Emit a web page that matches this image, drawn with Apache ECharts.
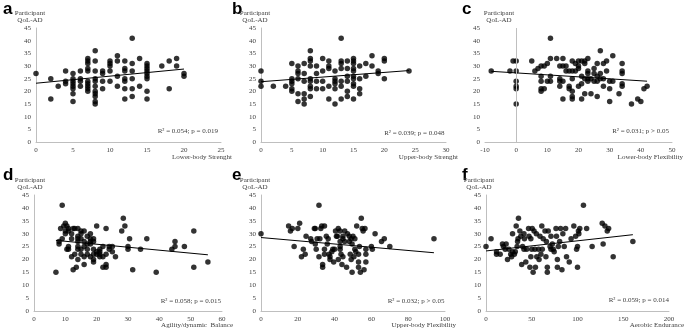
<!DOCTYPE html>
<html><head><meta charset="utf-8">
<script src="https://cdn.jsdelivr.net/npm/echarts@6/dist/echarts.min.js"></script>
<style>html,body{margin:0;padding:0;background:#fff}#c{width:685px;height:331px}</style>
</head><body><div id="c"></div>
<script>
// ---- data ----
const panelLetters = ['a','b','c','d','e','f'];
const xTitles = ['Lower-body Strenght','Upper-body Strenght','Lower-body Flexibility','Agility/dynamic  Balance','Upper-body Flexibility','Aerobic Endurance'];
const statsText = ['R\u00b2 = 0.054; p = 0.019','R\u00b2 = 0.039; p = 0.048','R\u00b2 = 0.031; p > 0.05','R\u00b2 = 0.058; p = 0.015','R\u00b2 = 0.032; p > 0.05','R\u00b2 = 0.059; p = 0.014'];
const xMin = [0, 0, -10, 0, 0, 0];
const xMax = [25, 30, 50, 60, 100, 200];
const xStep = [5, 5, 10, 10, 20, 50];
const yTicks = [0, 45, 5];

const lowerStrength = [[0,27],[2,25],[2,17],[3,22],[4,28],[4,24],[4,23],
 [5,27],[5,25],[5,24],[5,23],[5,22],[5,21],[5,19],[5,16],
 [6,28],[6,25],[6,24],[6,22],
 [7,33],[7,32],[7,31],[7,29],[7,28],[7,24],[7,23],[7,22],[7,21],[7,20],
 [8,36],[8,32],[8,28],[8,25],[8,24],[8,22],[8,20],[8,19],[8,18],[8,16],[8,15],
 [9,28],[9,27],[9,24],[9,21],[10,32],[10,31],[10,30],[10,28],[10,24],
 [11,34],[11,32],[11,26],[11,22],[12,32],[12,29],[12,28],[12,25],[12,24],[12,21],[12,17],
 [13,41],[13,31],[13,28],[13,25],[13,21],[13,18],[14,33],[14,22],
 [15,31],[15,30],[15,29],[15,28],[15,27],[15,26],[15,25],[15,20],[15,17],
 [17,30],[18,32],[18,21],[19,33],[19,30],[20,27],[20,26]];
const upperStrength = [[0,28],[0,24],[0,22],[2,22],[4,22],
 [5,31],[5,25],[5,24],[5,23],[5,21],[5,20],
 [6,30],[6,28],[6,27],[6,25],[6,19],[6,16],
 [7,31],[7,27],[7,24],[7,19],[7,17],[7,15],
 [8,36],[8,33],[8,32],[8,30],[8,25],[8,24],[8,22],[8,21],[8,18],
 [9,30],[9,27],[9,24],[9,21],[10,33],[10,28],[10,24],[10,21],
 [11,32],[11,30],[11,29],[11,22],[11,17],[12,28],[12,25],[12,24],[12,23],[12,21],[12,15],
 [13,41],[13,32],[13,31],[13,29],[13,24],[13,22],[13,17],
 [14,32],[14,29],[14,26],[14,24],[14,20],[14,18],
 [15,33],[15,32],[15,31],[15,29],[15,28],[15,26],[15,25],[15,23],[15,22],[15,17],
 [16,30],[16,25],[16,21],[16,19],[17,31],[17,26],[18,34],[18,30],[19,28],[19,27],
 [20,33],[20,32],[20,25],[24,28]];
const lowerFlex = [[-8,28],[-2,28],[-1,32],[0,32],[0,28],[0,24],[0,22],[0,21],[0,15],
 [5,32],[6,28],[7,29],[8,30],[8,26],[8,24],[8,21],[8,20],[9,30],[9,21],[10,31],[10,24],
 [11,41],[11,33],[11,26],[11,24],[13,33],[14,30],[14,25],[14,24],[14,22],
 [15,33],[15,30],[15,24],[15,17],[16,30],[16,28],[17,28],[17,22],[17,21],
 [18,32],[18,28],[18,25],[18,20],[18,18],[18,17],[19,31],[19,28],
 [20,32],[20,30],[20,29],[20,22],[21,32],[21,26],[21,23],[21,17],
 [22,32],[22,31],[22,25],[22,19],[23,33],[23,28],[23,27],[23,25],[23,24],[24,25],[24,19],
 [25,29],[25,27],[25,24],[26,31],[26,26],[26,24],[26,18],[27,36],[27,27],[27,25],
 [28,31],[28,25],[28,22],[29,32],[29,28],[30,24],[30,21],[30,16],[31,34],[31,24],[33,19],
 [34,31],[34,28],[34,27],[34,23],[34,22],[37,15],[39,17],[40,16],[41,21],[42,22]];
const agility = [[7,15],[8,27],[8,26],[9,41],[8.5,32],[9,28],[9.5,33],[10,34],[10,31],[10,30],
 [10.5,33],[11,32],[11,31],[11,24],[11,25],[10.5,24],[12,30],[12,28],[12,21],[12.5,32],
 [13,32],[13,22],[12.5,16],[13.5,17],[14,32],[14,29],[14,28],[14,27],[14,25],[14,24],[14,20],
 [15,31],[15,30],[15,28],[15,24],[15,22],[16,31],[16,27],[16,25],[16,21],[16,18],
 [17,29],[17,26],[17,24],[17,22],[18,30],[18,28],[18,27],[18,26],[18,21],
 [19,28],[19,27],[19,24],[19,22],[19,20],[19,19],[20,33],[20,23],[20,22],
 [21,24],[21,23],[21,22],[21,21],[22,25],[22,21],[22,17],[23,22],[23,18],[23,17],[23,32],
 [24,24],[24,25],[25,25],[25,23],[26,21],[28,31],[28.5,36],[29,33],[30,25],[30,24],[30.5,28],
 [31.5,16],[34,24],[36,28],[39,15],[44,24],[45,25],[45,27],[48,25],[51,31],[51,17],[55.5,19]];
const upperFlex = [[0,30],[15,33],[16,31],[17,32],[18,25],[20,32],[21,34],[22,21],[23,24],[24,22],
 [24.5,29],[27,28],[27.5,27],[29,32],[29.5,32],[29.5,26],[30,24],[30.5,28],[31.5,41],[31.5,21],
 [32,28],[32.5,32],[33,33],[33.5,18],[33.5,17],[34.5,22],[34.5,24],[34.5,33],[35.5,29],[36,26],
 [36.5,28],[37,22],[37.5,21],[37.5,20],[38.5,23],[39,24],[39.5,19],[40,24],[40.5,31],[41,29],
 [41.5,29],[42,20],[42,32],[43,31],[43,27],[43,25],[43,24],[43.5,22],[44,18],[44.5,21],
 [44.5,29],[44.5,28],[45.5,31],[45.5,27],[46.5,17],[47,30],[48,29],[48,27],[48.5,22],[49,20],
 [49,28],[49.5,26],[49.5,15],[50,29],[50.5,21],[51,28],[51,24],[51.5,23],[52,33],[53,22],
 [53,19],[53,17],[53.5,25],[54,15],[54.5,36],[55,32],[55.5,31],[56,16],[56.5,32],[57,24],
 [57,22],[57,19],[60,25],[60.5,24],[62,30],[65.5,27],[67,28],[70,25],[94,28]];
const aerobic = [[0,25],[5.5,28],[11.5,23],[11.5,22],[15.5,22],[18,26],[19,25],[21,24],[22,26],
 [23.5,20],[25,24],[27,22],[28,21],[29,23],[29,30],[31,22],[32,23],[33,33],[34,25],[34.5,27],
 [35,28],[35.5,36],[37,31],[38,29],[39,18],[40,25],[41.5,24],[41.5,30],[42,28],[43.5,19],
 [44.5,24],[46.5,32],[47,29],[48,17],[49,28],[49,21],[50,24],[50.5,32],[51.5,15],[52.5,31],
 [53.5,24],[54,17],[55,30],[55.5,21],[57.5,24],[58,20],[59,29],[60,22],[61,33],[61.5,24],
 [62.5,28],[64.5,31],[65.5,21],[66,27],[67,17],[67,15],[68,31],[70,25],[71,29],[71,24],
 [72.5,26],[73.5,24],[74.5,23],[76.5,32],[77,29],[78,20],[78,17],[79,25],[80.5,27],[81.5,32],
 [83,16],[84,30],[85.5,25],[87,32],[88,21],[91,19],[93,28],[96,33],[98,29],[99,24],[100,25],
 [100,17],[101,31],[101.5,30],[102.5,32],[106.5,41],[110,32],[116,25],[127,34],[128,26],
 [130,33],[132.5,31],[134,32],[139,21],[160.5,27]];
const panelData = [lowerStrength, upperStrength, lowerFlex, agility, upperFlex, aerobic];

// trend-line end points
const trendA = [[0,23.2],[20,28.8]];
const trendB = [[0,23.8],[24,28.2]];
const trendC = [[-8,27.9],[42,24.0]];
const trendD = [[7,27.4],[55.5,21.8]];
const trendE = [[0,28.5],[94,22.6]];
const trendF = [[0,23.3],[160.5,29.6]];
const trends = [trendA, trendB, trendC, trendD, trendE, trendF];

// ---- layout ----
const grids = [
  {left:36, top:28, width:185, height:114},
  {left:261, top:28, width:185, height:114},
  {left:485, top:28, width:187, height:114},
  {left:34, top:195, width:188, height:116},
  {left:261, top:195, width:184, height:116},
  {left:486, top:195, width:183, height:116}
];
const letterPos = [[3,1],[232,1],[462,1],[3,167],[232,167],[462,167]];
const ylabPos = [[30,13],[255,13],[499,13],[30,180],[255,180],[479,180]];
const xTitlePos = [[232,157.5],[458,157.5],[683,157.5],[233,325],[456,325],[684,325]];
const statPos = [[218,131.5],[444.5,133],[669,131.5],[221,301],[444.5,301],[669,300]];

const SERIF = '"Liberation Serif","Times New Roman",serif';
const TXT = '#404040';
const AX = '#bfbfbf';

const xAxis = [], yAxis = [], series = [], graphic = [];
grids.forEach((g, i) => {
  xAxis.push({type:'value', gridIndex:i, min:xMin[i], max:xMax[i], interval:xStep[i],
    axisLine:{show:true, onZero:false, lineStyle:{color:AX, width:1}},
    axisTick:{show:false}, splitLine:{show:false},
    axisLabel:{fontFamily:SERIF, fontSize:7, color:TXT, margin:5}});
  yAxis.push({type:'value', gridIndex:i, min:yTicks[0], max:yTicks[1], interval:yTicks[2],
    axisLine:{show:xMin[i] === 0, onZero:false, lineStyle:{color:AX, width:1}},
    axisTick:{show:false}, splitLine:{show:false},
    axisLabel:{fontFamily:SERIF, fontSize:7, color:TXT, margin:5}});
  const sc = {type:'scatter', xAxisIndex:i, yAxisIndex:i, data:panelData[i], symbolSize:5.5,
    itemStyle:{color:'#000'}, silent:true, z:3};
  if (xMin[i] !== 0) {
    sc.markLine = {silent:true, symbol:'none', label:{show:false},
      lineStyle:{color:AX, width:1, type:'solid'}, data:[{xAxis:0}], animation:false};
  }
  series.push(sc);
  series.push({type:'line', xAxisIndex:i, yAxisIndex:i, data:trends[i], symbol:'none',
    lineStyle:{color:'#000', width:1}, silent:true, z:4});
  graphic.push({type:'text', left:letterPos[i][0], top:letterPos[i][1],
    style:{text:panelLetters[i], font:'bold 17px "Liberation Sans", Arial, sans-serif', fill:'#000'}});
  graphic.push({type:'text', x:ylabPos[i][0], y:ylabPos[i][1],
    style:{text:'Participant', font:'7px '+SERIF, fill:TXT, align:'center', verticalAlign:'middle', textAlign:'center', textVerticalAlign:'middle'}});
  graphic.push({type:'text', x:ylabPos[i][0], y:ylabPos[i][1]+7,
    style:{text:'QoL-AD', font:'7px '+SERIF, fill:TXT, align:'center', verticalAlign:'middle', textAlign:'center', textVerticalAlign:'middle'}});
  graphic.push({type:'text', x:xTitlePos[i][0], y:xTitlePos[i][1],
    style:{text:xTitles[i], font:'7px '+SERIF, fill:TXT, align:'right', verticalAlign:'middle', textAlign:'right', textVerticalAlign:'middle'}});
  graphic.push({type:'text', x:statPos[i][0], y:statPos[i][1],
    style:{text:statsText[i], font:'7px '+SERIF, fill:TXT, align:'right', verticalAlign:'middle', textAlign:'right', textVerticalAlign:'middle'}});
});

const chart = echarts.init(document.getElementById('c'), null, {renderer:'canvas'});
chart.setOption({animation:false, backgroundColor:'#fff',
  grid: grids.map(g => Object.assign({containLabel:false}, g)),
  xAxis, yAxis, series, graphic});
</script></body></html>
